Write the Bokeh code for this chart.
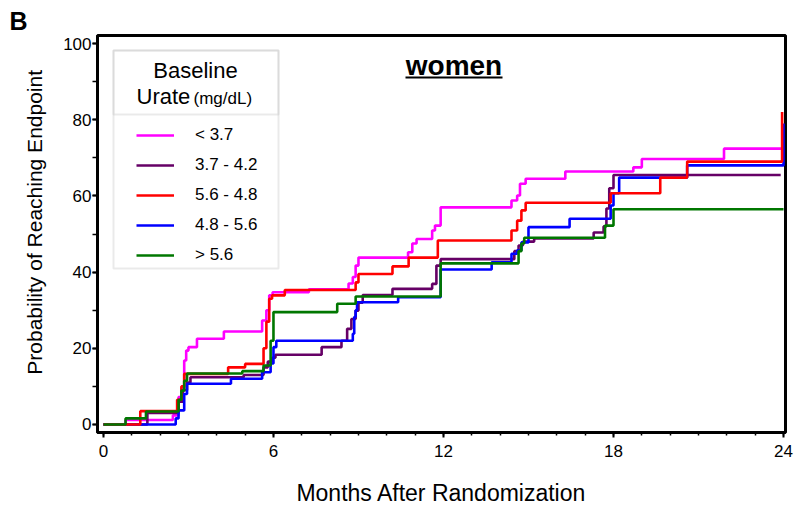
from bokeh.plotting import figure
from bokeh.models import Range1d, FixedTicker, Legend, LegendItem, Label, BoxAnnotation
from bokeh.embed import file_html
from bokeh.resources import INLINE

# ---------------- data ----------------
x_ticks = [0, 6, 12, 18, 24]
x_minor = list(range(0, 25))
y_ticks = [0, 20, 40, 60, 80, 100]
y_minor = list(range(0, 101, 10))

series_labels = ["< 3.7", "3.7 - 4.2", "5.6 - 4.8", "4.8 - 5.6", "> 5.6"]
series_colors = ["#FF00FF", "#660066", "#FF0000", "#0000FF", "#007700"]

t_lt37 = [0, 0.78, 2.45, 2.65, 2.75, 2.85, 2.92, 3.0, 3.3, 4.25, 5.6, 5.75, 5.85, 5.97, 7.25,
          8.65, 8.8, 8.9, 9.0, 10.75, 10.9, 11.05, 11.6, 11.7, 11.9, 14.4, 14.6, 14.7, 14.9,
          16.3, 18.7, 19.0, 21.9, 24.0]
v_lt37 = [0, 1.2, 2.4, 7.2, 9.4, 16.8, 19.4, 20.3, 22.5, 24.4, 27.3, 30.0, 33.9, 34.7, 35.5,
          37.0, 38.7, 41.7, 43.8, 45.2, 47.5, 48.7, 50.9, 52.2, 57.0, 58.8, 60.1, 63.2, 64.5,
          66.4, 67.5, 69.7, 72.4, 72.4]

t_37_42 = [0, 1.55, 2.65, 2.8, 2.95, 3.07, 4.95, 5.65, 5.8, 5.95, 6.07, 7.7, 8.4, 8.6, 8.75,
           8.9, 9.0, 9.15, 10.2, 11.6, 11.75, 11.9, 14.5, 14.65, 14.8, 15.2, 17.3, 17.65,
           17.75, 17.85, 18.0, 23.9]
v_37_42 = [0, 3.0, 6.0, 9.0, 11.0, 12.4, 13.0, 15.0, 16.5, 17.5, 18.3, 20.3, 22.0, 25.1, 27.7,
           29.9, 32.0, 34.0, 35.6, 36.9, 41.7, 43.4, 45.5, 47.0, 48.0, 48.8, 50.4, 52.0,
           56.7, 62.0, 65.5, 65.5]

t_56_48 = [0, 1.3, 2.6, 2.75, 2.85, 4.4, 5.0, 5.65, 5.75, 5.85, 5.95, 6.4, 8.9, 9.0, 10.2,
           10.77, 11.8, 14.4, 14.6, 14.75, 14.9, 17.9, 19.65, 20.6, 23.95]
v_56_48 = [0, 3.5, 6.5, 10.0, 13.3, 15.0, 15.9, 20.0, 27.0, 33.0, 33.9, 35.3, 37.3, 39.5, 41.5,
           43.8, 48.3, 50.9, 53.5, 56.2, 58.2, 60.7, 64.8, 69.0, 82.0]

t_48_56 = [0, 2.55, 2.65, 2.85, 2.95, 4.5, 5.6, 5.9, 6.0, 6.1, 8.8, 8.85, 8.9, 8.95, 10.4,
           11.9, 13.7, 14.4, 14.6, 14.75, 15.0, 16.45, 17.9, 18.0, 18.2, 20.6, 24.0]
v_48_56 = [0, 1.6, 3.7, 8.0, 10.7, 12.0, 13.7, 16.0, 20.3, 22.0, 23.8, 28.2, 30.0, 32.1, 33.4,
           40.7, 42.6, 44.8, 45.7, 47.8, 51.8, 54.0, 57.5, 60.7, 64.8, 68.0, 79.0]

t_gt56 = [0, 0.78, 1.5, 2.65, 2.75, 2.85, 2.95, 4.9, 5.65, 5.9, 6.0, 8.25, 8.9, 11.9, 14.65,
          14.75, 14.85, 17.7, 18.0, 24.0]
v_gt56 = [0, 1.6, 3.4, 6.5, 8.9, 11.5, 13.4, 14.0, 15.5, 22.0, 29.5, 31.7, 33.6, 42.3, 45.5,
          47.5, 49.0, 52.2, 56.5, 56.5]

series_t = [t_lt37, t_37_42, t_56_48, t_48_56, t_gt56]
series_v = [v_lt37, v_37_42, v_56_48, v_48_56, v_gt56]

# ---------------- figure ----------------
FONT = "Liberation Sans"
X0, X1 = -0.21, 24.07
Y0, Y1 = -2.1, 102.1

p = figure(width=800, height=510, output_backend="svg", toolbar_location=None,
           x_range=Range1d(X0, X1), y_range=Range1d(Y0, Y1),
           min_border_left=97, min_border_right=15, min_border_top=35, min_border_bottom=78)
p.background_fill_color = "white"
p.border_fill_color = "white"
p.outline_line_color = "black"
p.outline_line_width = 3
p.xgrid.visible = False
p.ygrid.visible = False

# panel letter as the plot title, pushed to the far left
p.title.text = "B"
p.title.align = "left"
p.title.offset = -88
p.title.standoff = 2
p.title.text_font = FONT
p.title.text_font_size = "25px"
p.title.text_font_style = "bold"
p.title.text_color = "black"

# frame pixel size (for placing annotations)
FW, FH = 688.0, 397.0


def dx(px):
    return X0 + (px / FW) * (X1 - X0)


def dy(py):
    return Y1 - (py / FH) * (Y1 - Y0)


order = [0, 1, 3, 2, 4]
rmap = {}
for i in order:
    rmap[i] = p.step(series_t[i], series_v[i], mode="after", line_color=series_colors[i],
                     line_width=2.6)
renderers = [rmap[i] for i in range(5)]

for ax in (p.xaxis[0], p.yaxis[0]):
    ax.axis_line_width = 3
    ax.axis_line_color = "black"
    ax.major_tick_line_width = 2
    ax.minor_tick_line_width = 1.5
    ax.major_tick_in = 0
    ax.minor_tick_in = 0
    ax.major_label_text_font = FONT
    ax.major_label_text_font_size = "17px"
    ax.major_label_text_color = "black"
    ax.axis_label_text_font = FONT
    ax.axis_label_text_font_style = "normal"
    ax.axis_label_text_color = "black"

p.xaxis.ticker = FixedTicker(ticks=x_ticks, minor_ticks=x_minor)
p.yaxis.ticker = FixedTicker(ticks=y_ticks, minor_ticks=y_minor)
p.xaxis.major_tick_out = 5
p.xaxis.minor_tick_out = 3
p.yaxis.major_tick_out = 5
p.yaxis.minor_tick_out = 5
p.xaxis.major_label_standoff = 7
p.yaxis.major_label_standoff = 1
p.xaxis.axis_label = "Months After Randomization"
p.yaxis.axis_label = "\u00a0\u00a0\u00a0\u00a0Probability of Reaching Endpoint"
p.xaxis.axis_label_text_font_size = "23px"
p.yaxis.axis_label_text_font_size = "21px"
p.xaxis.axis_label_standoff = 20
p.yaxis.axis_label_standoff = 14

# ---------------- legend ----------------
legend = Legend(items=[LegendItem(label=series_labels[i], renderers=[renderers[i]]) for i in range(5)],
                location=(39, 167), orientation="vertical", padding=0, margin=0, spacing=10,
                glyph_width=38, glyph_height=20, label_height=20, label_standoff=21,
                label_text_font=FONT, label_text_font_size="17px", label_text_color="black",
                border_line_color=None, background_fill_alpha=0)
p.add_layout(legend)

p.add_layout(BoxAnnotation(left=dx(16), right=dx(181), top=dy(15), bottom=dy(233),
                           fill_alpha=0, line_color="#BBBBBB", line_width=2))
p.add_layout(BoxAnnotation(left=dx(16), right=dx(181), top=dy(15), bottom=dy(79),
                           fill_alpha=0, line_color="#BBBBBB", line_width=2))
p.add_layout(Label(x=dx(98), y=dy(34.5), text="Baseline", text_align="center",
                   text_baseline="alphabetic", text_font=FONT, text_font_size="22px",
                   text_color="black"))
p.add_layout(Label(x=dx(39), y=dy(61), text="Urate", text_align="left",
                   text_baseline="alphabetic", text_font=FONT, text_font_size="22px",
                   text_color="black"))
p.add_layout(Label(x=dx(96), y=dy(62.5), text="(mg/dL)", text_align="left",
                   text_baseline="alphabetic", text_font=FONT, text_font_size="17px",
                   text_color="black"))

# ---------------- title ----------------
p.add_layout(Label(x=dx(356.5), y=dy(30), text="women", text_align="center",
                   text_baseline="alphabetic", text_font=FONT, text_font_size="28px",
                   text_font_style="bold", text_color="black"))
p.add_layout(BoxAnnotation(left=dx(308), right=dx(405), top=dy(41), bottom=dy(43),
                           fill_color="black", fill_alpha=1, line_alpha=0))

open("out.html", "w").write(file_html(p, INLINE))
